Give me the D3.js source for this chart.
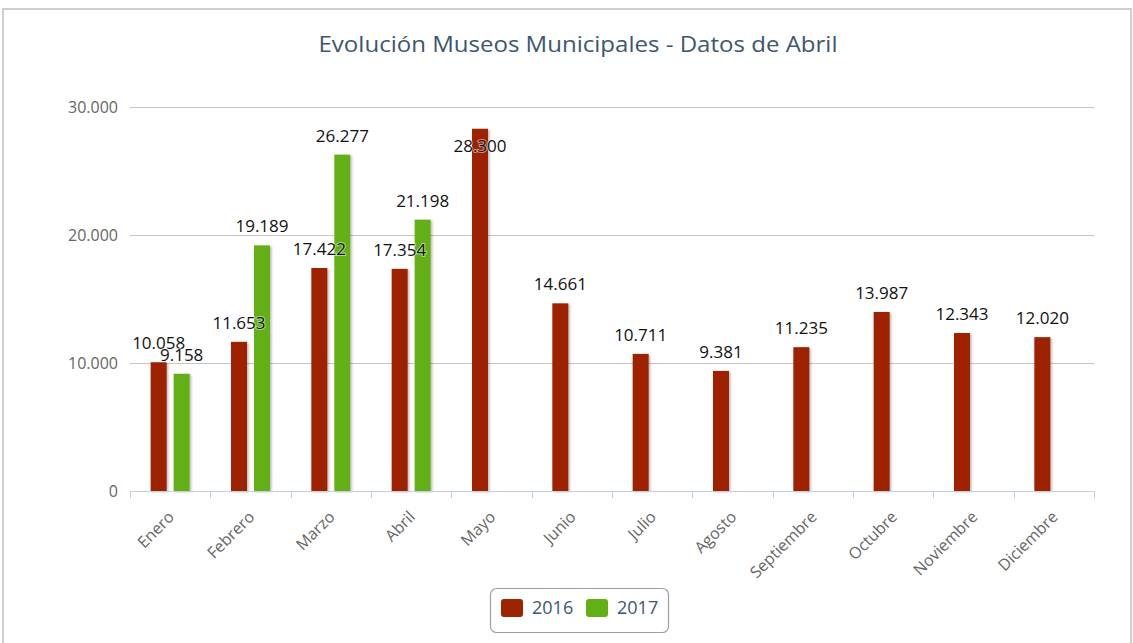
<!DOCTYPE html>
<html>
<head>
<meta charset="utf-8">
<script src="https://cdn.jsdelivr.net/npm/d3@7"></script>
<style>
  html, body { margin: 0; padding: 0; background: #fff; }
  svg { display: block; font-family: "Open Sans", sans-serif; }
</style>
</head>
<body>
<div id="chart"></div>
<script>
const months = ["Enero", "Febrero", "Marzo", "Abril", "Mayo", "Junio", "Julio",
  "Agosto", "Septiembre", "Octubre", "Noviembre", "Diciembre"];
const series = ["2016", "2017"];
const values2016 = [10058, 11653, 17422, 17354, 28300, 14661, 10711, 9381, 11235, 13987, 12343, 12020];
const values2017 = [9158, 19189, 26277, 21198];
const yTicks = [0, 10000, 20000, 30000];
const colors = { "2016": "#9e2300", "2017": "#62b012" };

const width = 1133, height = 643;
const margin = { top: 107, right: 39, bottom: 152, left: 130 };
const innerW = width - margin.left - margin.right;
const innerH = height - margin.top - margin.bottom;

const fmt = (v) => d3.format(",")(v).replace(/,/g, ".");

const svg = d3.select("#chart").append("svg")
  .attr("width", width)
  .attr("height", height);

const defs = svg.append("defs");
defs.append("filter")
  .attr("id", "shadow")
  .attr("x", "-30%").attr("y", "-5%")
  .attr("width", "160%").attr("height", "110%")
  .append("feDropShadow")
  .attr("dx", 1.5).attr("dy", 1)
  .attr("stdDeviation", 1.2)
  .attr("flood-color", "#000")
  .attr("flood-opacity", 0.28);

// frame of the chart container
svg.append("rect")
  .attr("x", 3).attr("y", 9)
  .attr("width", width - 5).attr("height", height)
  .attr("fill", "none")
  .attr("stroke", "#cfcfcf")
  .attr("stroke-width", 2);

svg.append("text")
  .attr("x", 578)
  .attr("y", 43)
  .attr("text-anchor", "middle")
  .attr("dominant-baseline", "central")
  .attr("textLength", 519)
  .attr("lengthAdjust", "spacingAndGlyphs")
  .style("font-size", "22px")
  .attr("fill", "#3e576f")
  .text("Evolución Museos Municipales - Datos de Abril");

const g = svg.append("g")
  .attr("transform", `translate(${margin.left},${margin.top})`);

const x0 = d3.scaleBand().domain(months).range([0, innerW]).padding(0);
const y = d3.scaleLinear().domain([0, 30000]).range([innerH, 0]);
// two bars 16px wide with a 7px gap, centred in each month
const x1 = d3.scaleBand().domain(series)
  .range([x0.bandwidth() / 2 - 19.5, x0.bandwidth() / 2 + 19.5])
  .paddingInner(7 / 23).paddingOuter(0);

// grid
g.append("g")
  .selectAll("line")
  .data(yTicks.filter((t) => t > 0))
  .join("line")
  .attr("x1", 0).attr("x2", innerW)
  .attr("y1", (d) => Math.round(y(d)) + 0.5)
  .attr("y2", (d) => Math.round(y(d)) + 0.5)
  .attr("stroke", "#c6c6c6")
  .attr("stroke-width", 1);

// y labels
g.append("g")
  .selectAll("text")
  .data(yTicks)
  .join("text")
  .attr("x", -12)
  .attr("y", (d) => y(d))
  .attr("dy", "0.35em")
  .attr("text-anchor", "end")
  .style("font-size", "16px")
  .attr("fill", "#666")
  .text((d) => fmt(d));

const rows = months.map((m, i) => ({
  month: m,
  items: [
    { key: "2016", value: values2016[i] },
    { key: "2017", value: values2017[i] },
  ].filter((d) => d.value != null),
}));

const monthG = g.append("g")
  .selectAll("g")
  .data(rows)
  .join("g")
  .attr("transform", (d) => `translate(${x0(d.month)},0)`);

monthG.selectAll("rect")
  .data((d) => d.items)
  .join("rect")
  .attr("x", (d) => x1(d.key))
  .attr("y", (d) => y(d.value))
  .attr("width", x1.bandwidth())
  .attr("height", (d) => innerH - y(d.value))
  .attr("fill", (d) => colors[d.key])
  .attr("filter", "url(#shadow)");

// x axis
const axis = g.append("g").attr("transform", `translate(0,${innerH})`);
axis.append("line")
  .attr("x1", 0).attr("x2", innerW)
  .attr("y1", 0.5).attr("y2", 0.5)
  .attr("stroke", "#c0d0e0");
axis.selectAll(".tick")
  .data(months.map((m) => x0(m)).concat([innerW]))
  .join("line")
  .attr("class", "tick")
  .attr("x1", (d) => Math.round(d) + 0.5)
  .attr("x2", (d) => Math.round(d) + 0.5)
  .attr("y1", 0).attr("y2", 7)
  .attr("stroke", "#c0d0e0");
axis.selectAll(".lbl")
  .data(months)
  .join("text")
  .attr("class", "lbl")
  .attr("transform", (d) => `translate(${x0(d) + x0.bandwidth() / 2 + 5},27) rotate(-45)`)
  .attr("text-anchor", "end")
  .style("font-size", "16px")
  .attr("fill", "#666")
  .text((d) => d);

// data labels on top of everything
const labels = [];
rows.forEach((r) => r.items.forEach((it) => {
  labels.push({ x: x0(r.month) + x1(it.key) + x1.bandwidth() / 2, value: it.value });
}));
g.append("g")
  .selectAll("text")
  .data(labels)
  .join("text")
  .attr("x", (d) => d.x)
  .attr("y", (d) => {
    const top = y(d.value);
    return top - 27 < 0 ? top + 17 : top - 19;
  })
  .attr("dy", "0.35em")
  .attr("text-anchor", "middle")
  .style("font-size", "17px")
  .attr("fill", "#111")
  .attr("stroke", "#fff")
  .attr("stroke-width", 2)
  .attr("stroke-opacity", 0.5)
  .attr("paint-order", "stroke")
  .text((d) => fmt(d.value));

// legend
const legend = svg.append("g").attr("transform", "translate(490,588)");
legend.append("rect")
  .attr("x", 0.5).attr("y", 0.5)
  .attr("width", 178).attr("height", 44)
  .attr("rx", 6)
  .attr("fill", "#fff")
  .attr("stroke", "#a0a0a0")
  .attr("stroke-width", 1.2);
const item = legend.selectAll(".item")
  .data(series)
  .join("g")
  .attr("class", "item")
  .attr("transform", (d, i) => `translate(${11 + i * 85},11)`);
item.append("rect")
  .attr("width", 22).attr("height", 18)
  .attr("rx", 3)
  .attr("fill", (d) => colors[d]);
item.append("text")
  .attr("x", 31).attr("y", 9)
  .attr("dy", "0.36em")
  .style("font-size", "18px")
  .attr("fill", "#3e576f")
  .text((d) => d);
</script>
</body>
</html>
